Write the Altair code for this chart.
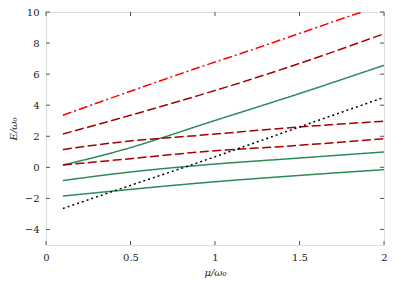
import altair as alt
import pandas as pd

# mu / omega0 sample positions
mu = [0.1, 0.5, 0.91, 1.5, 2.0]
mu_red = [0.1, 0.32, 0.5, 0.91, 1.2, 1.5, 1.87, 2.0]
mu_up = [0.1, 0.32, 0.5, 0.91, 1.2, 1.5, 2.0]
mu_gr = [0.1, 0.3, 0.5, 0.7, 0.91, 1.5, 2.0]

red_dashdot = [3.35, 4.21, 4.9, 6.45, 7.5, 8.62, 10.0, 10.45]
darkred_upper = [2.15, 2.8, 3.35, 4.65, 5.62, 6.69, 8.6]
darkred_mid = [1.15, 1.70, 2.06, 2.60, 2.97]
darkred_low = [0.15, 0.56, 0.99, 1.42, 1.85]
green_upper = [0.15, 0.68, 1.27, 1.95, 2.70, 4.75, 6.57]
green_mid = [-0.85, -0.30, 0.13, 0.60, 0.99]
green_low = [-1.85, -1.42, -1.01, -0.52, -0.15]
black_dotted = [-2.65, -1.16, 0.34, 2.60, 4.50]

x_ticks = [0, 0.5, 1, 1.5, 2]
y_ticks = [-4, -2, 0, 2, 4, 6, 8, 10]

W, H = 338, 233
FONT = "DejaVu Serif"
AX = "#555555"

xs = alt.Scale(domain=[0, 2], nice=False, zero=False)
ys = alt.Scale(domain=[-5, 10], nice=False, zero=False)

x_axis = alt.Axis(
    values=x_ticks, format="~g", title="μ/ω₀", tickSize=0,
    grid=False, domain=False, labelPadding=7, titlePadding=5,
    labelFlush=False, labelOverlap=False,
    labelFont=FONT, titleFont=FONT, labelFontSize=10, titleFontSize=10,
    titleFontStyle="italic", titleFontWeight="normal", labelColor="#222", titleColor="#222")
y_axis = alt.Axis(
    values=y_ticks, title="E/ω₀", tickSize=0, grid=False, domain=False,
    labelPadding=7, titlePadding=6, labelFlush=False, labelOverlap=False,
    labelFont=FONT, titleFont=FONT, labelFontSize=10, titleFontSize=10,
    titleFontStyle="italic", titleFontWeight="normal", labelColor="#222", titleColor="#222")

def series(xv, yv, color, dash, width=1.5):
    df = pd.DataFrame({"mu": xv, "E": yv})
    return alt.Chart(df).mark_line(
        color=color, strokeDash=dash, strokeWidth=width, clip=True,
        interpolate="monotone"
    ).encode(
        x=alt.X("mu:Q", scale=xs, axis=x_axis),
        y=alt.Y("E:Q", scale=ys, axis=y_axis),
    )

xt = pd.DataFrame({"t": x_ticks})
yt = pd.DataFrame({"t": y_ticks})
tick_bottom = alt.Chart(xt).mark_rule(color=AX, strokeWidth=1).encode(
    x=alt.X("t:Q", scale=xs, axis=x_axis), y=alt.value(H), y2=alt.value(H - 4))
tick_top = alt.Chart(xt).mark_rule(color=AX, strokeWidth=1).encode(
    x=alt.X("t:Q", scale=xs, axis=x_axis), y=alt.value(0), y2=alt.value(4))
tick_left = alt.Chart(yt).mark_rule(color=AX, strokeWidth=1).encode(
    y=alt.Y("t:Q", scale=ys, axis=y_axis), x=alt.value(0), x2=alt.value(4))
tick_right = alt.Chart(yt).mark_rule(color=AX, strokeWidth=1).encode(
    y=alt.Y("t:Q", scale=ys, axis=y_axis), x=alt.value(W), x2=alt.value(W - 4))

DR = "#a50000"
GR = "#2e8b57"
layers = [
    series(mu, green_low, GR, [1, 0]),
    series(mu, green_mid, GR, [1, 0]),
    series(mu_gr, green_upper, GR, [1, 0]),
    series(mu, darkred_low, DR, [9, 3.5]),
    series(mu, darkred_mid, DR, [9, 3.5]),
    series(mu_up, darkred_upper, DR, [9, 3.5]),
    series(mu_red, red_dashdot, "#ff0000", [9, 3, 2, 3]),
    series(mu, black_dotted, "#000000", [2, 3]),
    tick_bottom, tick_top, tick_left, tick_right,
]

chart = alt.layer(*layers).properties(
    width=W, height=H,
    autosize=alt.AutoSizeParams(type="none"),
    padding={"left": 38, "top": 4, "right": 10, "bottom": 40},
).configure_view(stroke=AX, strokeWidth=1.2).configure(background="white")

chart.save("out.html", embed_options={"renderer": "svg", "actions": False})
